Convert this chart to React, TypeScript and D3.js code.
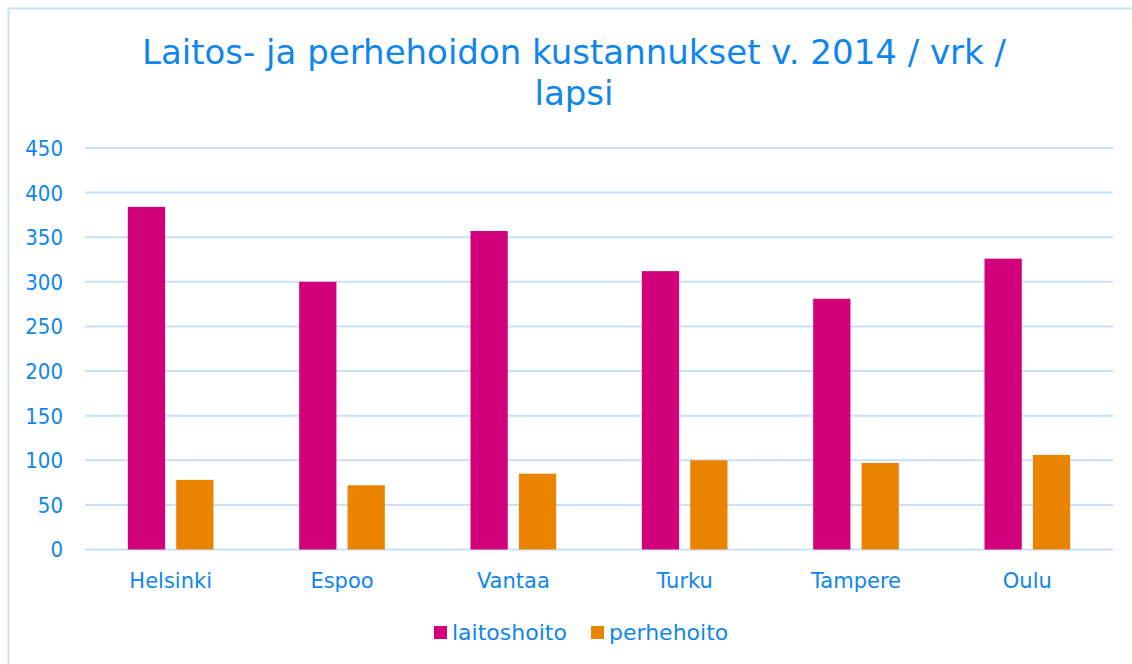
import React, { useEffect, useRef } from 'react';
import * as d3 from 'd3';

// data
const cities = ['Helsinki', 'Espoo', 'Vantaa', 'Turku', 'Tampere', 'Oulu'];
const seriesNames = ['laitoshoito', 'perhehoito'];
const laitoshoito = [384, 300, 357, 312, 281, 326];
const perhehoito = [78, 72, 85, 100, 97, 106];
const yTicks = [0, 50, 100, 150, 200, 250, 300, 350, 400, 450];
const titleLines = ['Laitos- ja perhehoidon kustannukset v. 2014 / vrk /', 'lapsi'];

const W = 1132;
const H = 664;
const FONT = '"DejaVu Sans", sans-serif';
const FONT_COND = '"DejaVu Sans Condensed", "DejaVu Sans", sans-serif';
const BLUE = '#0f86ee';
const GRID = '#c6e1fb';
const colors = ['#d2007a', '#e98300'];

const App = () => {
  const ref = useRef<SVGSVGElement | null>(null);

  useEffect(() => {
    const svg = d3.select(ref.current);
    svg.selectAll('*').remove();

    // margins of the plot area
    const margins = { top: 148, left: 85, right: 19, bottom: 114.5 };
    const innerW = W - margins.left - margins.right;
    const innerH = H - margins.top - margins.bottom;

    // outer frame
    svg.append('rect')
      .attr('x', 8.5).attr('y', 8.5)
      .attr('width', W + 20).attr('height', H + 20)
      .attr('fill', '#fff')
      .attr('stroke', '#c9e2fa').attr('stroke-width', 2);

    // title
    const title = svg.append('text')
      .attr('text-anchor', 'middle')
      .attr('fill', BLUE)
      .style('font-family', FONT)
      .style('font-size', '34px');
    titleLines.forEach((t, i) => {
      title.append('tspan').attr('x', 574).attr('y', 64 + i * 41).text(t);
    });

    const g = svg.append('g').attr('transform', `translate(${margins.left},${margins.top})`);

    const yScale = d3.scaleLinear().domain([0, 450]).range([innerH, 0]);
    const x0 = d3.scaleBand().domain(cities).range([0, innerW]).paddingInner(0.5).paddingOuter(0.25);
    const x1 = d3.scaleBand().domain(seriesNames).range([0, x0.bandwidth()]).paddingInner(0.23);

    // gridlines
    g.append('g')
      .selectAll('line')
      .data(yTicks)
      .enter()
      .append('line')
      .attr('x1', 0).attr('x2', innerW)
      .attr('y1', d => yScale(d)).attr('y2', d => yScale(d))
      .attr('stroke', GRID).attr('stroke-width', 2);

    // y labels
    g.append('g')
      .selectAll('text')
      .data(yTicks)
      .enter()
      .append('text')
      .attr('x', -22)
      .attr('y', d => yScale(d))
      .attr('dy', '0.36em')
      .attr('text-anchor', 'end')
      .attr('fill', BLUE)
      .style('font-family', FONT_COND)
      .style('font-size', '22px')
      .text(d => d);

    // bars
    const values = [laitoshoito, perhehoito];
    const rows = cities.map((c, i) => ({ city: c, vals: values.map((v, s) => ({ s: seriesNames[s], v: v[i], idx: s })) }));
    g.selectAll('.group')
      .data(rows)
      .enter()
      .append('g')
      .attr('transform', d => `translate(${x0(d.city)},0)`)
      .selectAll('rect')
      .data(d => d.vals)
      .enter()
      .append('rect')
      .attr('x', d => x1(d.s) as number)
      .attr('width', x1.bandwidth())
      .attr('y', d => yScale(d.v))
      .attr('height', d => innerH - yScale(d.v))
      .attr('fill', d => colors[d.idx]);

    // category labels
    g.append('g')
      .selectAll('text')
      .data(cities)
      .enter()
      .append('text')
      .attr('x', d => (x0(d) as number) + x0.bandwidth() / 2)
      .attr('y', innerH + 38)
      .attr('text-anchor', 'middle')
      .attr('fill', BLUE)
      .style('font-family', FONT)
      .style('font-size', '21px')
      .text(d => d);

    // legend
    const legendX = [434, 591];
    const legend = svg.append('g');
    seriesNames.forEach((name, i) => {
      legend.append('rect')
        .attr('x', legendX[i]).attr('y', 626)
        .attr('width', 13).attr('height', 13)
        .attr('fill', colors[i]);
      legend.append('text')
        .attr('x', legendX[i] + 18).attr('y', 640)
        .attr('fill', BLUE)
        .style('font-family', FONT)
        .style('font-size', '22px')
        .text(name);
    });
  }, []);

  return (
    <svg ref={ref} width={W} height={H} style={{ position: 'absolute', left: 0, top: 0 }}></svg>
  );
};

export default App;
